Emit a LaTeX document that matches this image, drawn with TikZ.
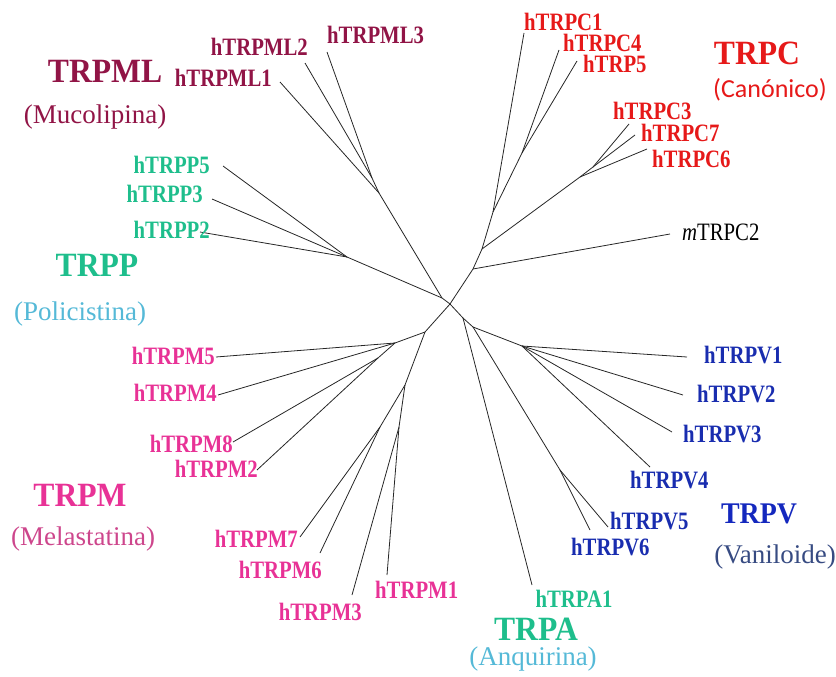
\documentclass[tikz,border=0pt]{standalone}
\usepackage{fontspec}
\setmainfont{Liberation Serif}
\newfontfamily\leaffont[FakeStretch=0.83]{Liberation Serif}
\newfontfamily\bigfont[FakeStretch=0.93]{Liberation Serif}
\newfontfamily\calfont{Carlito}
\usepackage{tikz}
\definecolor{mlcol}{RGB}{145,20,70}
\definecolor{ppcol}{RGB}{30,190,140}
\definecolor{lightcyan}{RGB}{85,185,215}
\definecolor{pccol}{RGB}{230,25,25}
\definecolor{pmcol}{RGB}{232,50,150}
\definecolor{pmsub}{RGB}{205,70,140}
\definecolor{pvcol}{RGB}{25,45,175}
\definecolor{pvbig}{RGB}{20,40,190}
\definecolor{pvsub}{RGB}{55,75,130}
\tikzset{branch/.style={draw=black!85,line width=0.8pt},
 leaf/.style={font=\leaffont\bfseries\fontsize{25}{28}\selectfont,inner sep=0pt},
 family/.style={font=\bigfont\bfseries\fontsize{34}{38}\selectfont,inner sep=0pt,anchor=base},
 subname/.style={font=\fontsize{27}{30}\selectfont,inner sep=0pt,anchor=base},
 }

\begin{document}
\begin{tikzpicture}[x=1pt,y=-1pt]
        \useasboundingbox (0,0) rectangle (836,677);

        % inner points of the tree
        \coordinate (r) at (450,304);
        \coordinate (a) at (442,298);
        \coordinate (ml) at (379,193);
        \coordinate (ml23) at (372,178);
        \coordinate (pp) at (347,257);
        \coordinate (c1) at (473,269);
        \coordinate (c2) at (482,249);
        \coordinate (c3) at (493,212);
        \coordinate (c45) at (522,153);
        \coordinate (c367) at (580,177);
        \coordinate (c37) at (593,167);
        \coordinate (m0) at (425,332);
        \coordinate (mA) at (395,343);
        \coordinate (m82) at (378,358);
        \coordinate (mB) at (405,385);
        \coordinate (m76) at (380,427);
        \coordinate (m31) at (399,427);
        \coordinate (v0) at (463,318);
        \coordinate (v1) at (473,327);
        \coordinate (v56) at (560,470);
        \coordinate (v14) at (522,346);

        % leaf ends
        \coordinate (ml1) at (280,82);
        \coordinate (ml2) at (305,63);
        \coordinate (ml3) at (327,52);
        \coordinate (pp5) at (223,166);
        \coordinate (pp3) at (212,199);
        \coordinate (pp2) at (200,232);
        \coordinate (pc1) at (524,33);
        \coordinate (pc4) at (559,50);
        \coordinate (pc5) at (577,61);
        \coordinate (pc3) at (629,124);
        \coordinate (pc7) at (635,135);
        \coordinate (pc6) at (647,149);
        \coordinate (mpc2) at (670,234);
        \coordinate (pm5) at (216,357);
        \coordinate (pm4) at (218,395);
        \coordinate (pm8) at (233,442);
        \coordinate (pm2) at (257,470);
        \coordinate (pm7) at (300,537);
        \coordinate (pm6) at (320,553);
        \coordinate (pm3) at (352,595);
        \coordinate (pm1) at (387,575);
        \coordinate (pv1) at (687,357);
        \coordinate (pv2) at (683,395);
        \coordinate (pv3) at (672,432);
        \coordinate (pv4) at (650,467);
        \coordinate (pv5) at (608,527);
        \coordinate (pv6) at (590,530);
        \coordinate (pa1) at (532,585);

        % branches
        \draw[branch] (r) -- (a) -- (ml) -- (ml1);
        \draw[branch] (ml) -- (ml23) -- (ml2);
        \draw[branch] (ml23) -- (ml3);
        \draw[branch] (a) -- (pp);
        \foreach \lf in {pp5,pp3,pp2}
            \draw[branch] (pp) -- (\lf);
        \draw[branch] (r) -- (c1) -- (c2) -- (c3) -- (pc1);
        \draw[branch] (c1) -- (mpc2);
        \draw[branch] (c3) -- (c45) -- (pc4);
        \draw[branch] (c45) -- (pc5);
        \draw[branch] (c2) -- (c367) -- (pc6);
        \draw[branch] (c367) -- (c37) -- (pc3);
        \draw[branch] (c37) -- (pc7);
        \draw[branch] (r) -- (m0) -- (mA) -- (pm5);
        \draw[branch] (mA) -- (pm4);
        \draw[branch] (mA) -- (m82) -- (pm8);
        \draw[branch] (m82) -- (pm2);
        \draw[branch] (m0) -- (mB) -- (m76) -- (pm7);
        \draw[branch] (m76) -- (pm6);
        \draw[branch] (mB) -- (m31) -- (pm3);
        \draw[branch] (m31) -- (pm1);
        \draw[branch] (r) -- (v0) -- (pa1);
        \draw[branch] (v0) -- (v1) -- (v56) -- (pv5);
        \draw[branch] (v56) -- (pv6);
        \draw[branch] (v1) -- (v14);
        \foreach \lf in {pv1,pv2,pv3,pv4}
            \draw[branch] (v14) -- (\lf);

        % leaf names
        \node[leaf, mlcol, anchor=base east] (tml1) at (272,87) {hTRPML1};
        \node[leaf, mlcol, anchor=base east] (tml2) at (308,56) {hTRPML2};
        \node[leaf, mlcol, anchor=base west] (tml3) at (327,44) {hTRPML3};
        \node[leaf, ppcol, anchor=base east] (tpp5) at (210,173) {hTRPP5};
        \node[leaf, ppcol, anchor=base east] (tpp3) at (203,202) {hTRPP3};
        \node[leaf, ppcol, anchor=base east] (tpp2) at (210,238) {hTRPP2};
        \node[leaf, pccol, anchor=base west] (tpc1) at (524,31) {hTRPC1};
        \node[leaf, pccol, anchor=base west] (tpc4) at (563,52) {hTRPC4};
        \node[leaf, pccol, anchor=base west] (tpc5) at (583,73) {hTRP5};
        \node[leaf, pccol, anchor=base west] (tpc3) at (613,120) {hTRPC3};
        \node[leaf, pccol, anchor=base west] (tpc7) at (641,141) {hTRPC7};
        \node[leaf, pccol, anchor=base west] (tpc6) at (652,167) {hTRPC6};
        \node[leaf, black, anchor=base west, font=\leaffont\fontsize{25}{28}\selectfont] (tmpc2) at (682,240) {\textit{m}TRPC2};
        \node[leaf, pmcol, anchor=base east] (tpm5) at (215,364) {hTRPM5};
        \node[leaf, pmcol, anchor=base east] (tpm4) at (217,401) {hTRPM4};
        \node[leaf, pmcol, anchor=base east] (tpm8) at (233,452) {hTRPM8};
        \node[leaf, pmcol, anchor=base east] (tpm2) at (258,477) {hTRPM2};
        \node[leaf, pmcol, anchor=base east] (tpm7) at (298,547) {hTRPM7};
        \node[leaf, pmcol, anchor=base east] (tpm6) at (322,578) {hTRPM6};
        \node[leaf, pmcol, anchor=base east] (tpm3) at (362,620) {hTRPM3};
        \node[leaf, pmcol, anchor=base west] (tpm1) at (375,598) {hTRPM1};
        \node[leaf, pvcol, anchor=base west] (tpv1) at (704,363) {hTRPV1};
        \node[leaf, pvcol, anchor=base west] (tpv2) at (697,402) {hTRPV2};
        \node[leaf, pvcol, anchor=base west] (tpv3) at (683,442) {hTRPV3};
        \node[leaf, pvcol, anchor=base west] (tpv4) at (630,488) {hTRPV4};
        \node[leaf, pvcol, anchor=base west] (tpv5) at (610,529) {hTRPV5};
        \node[leaf, pvcol, anchor=base west] (tpv6) at (571,555) {hTRPV6};
        \node[leaf, ppcol, anchor=base] (tpa1) at (574,607) {hTRPA1};

        % family names
        \node[family, mlcol] (fml) at (105,83) {TRPML};
        \node[subname, mlcol] (sml) at (95,123) {(Mucolipina)};
        \node[family, ppcol] (fpp) at (97,276) {TRPP};
        \node[subname, lightcyan] (spp) at (80,320) {(Policistina)};
        \node[family, pccol] (fpc) at (757,65) {TRPC};
        \node[subname, pccol, font=\calfont\fontsize{26}{30}\selectfont] (spc) at (770,98) {(Canónico)};
        \node[family, pmcol] (fpm) at (80,506) {TRPM};
        \node[subname, pmsub] (spm) at (83,545) {(Melastatina)};
        \node[family, pvbig, font=\bigfont\bfseries\fontsize{30}{34}\selectfont] (fpv) at (759,523) {TRPV};
        \node[subname, pvsub] (spv) at (775,563) {(Vaniloide)};
        \node[family, ppcol] (fpa) at (536,640) {TRPA};
        \node[subname, lightcyan] (spa) at (533,665) {(Anquirina)};
    \end{tikzpicture}
\end{document}
